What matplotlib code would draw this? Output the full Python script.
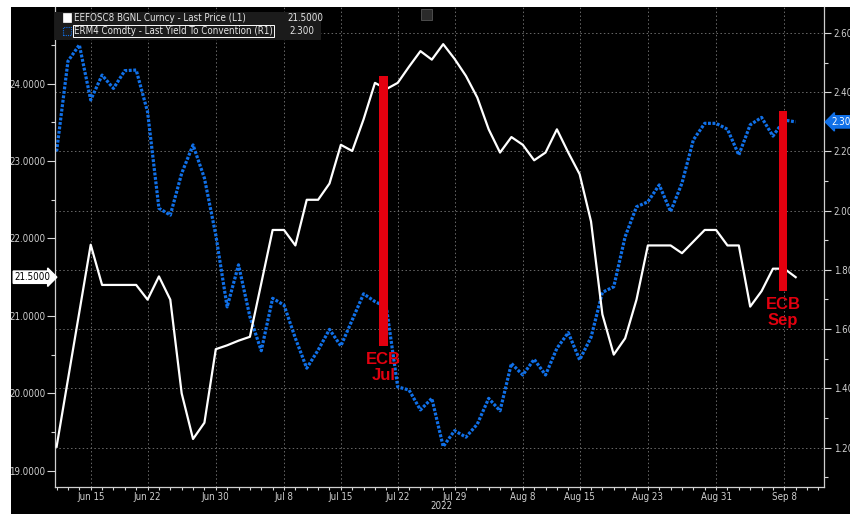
import pandas as pd
import matplotlib
matplotlib.use("Agg")
import matplotlib.pyplot as plt
from matplotlib import font_manager
from matplotlib.patches import Rectangle
from matplotlib.ticker import MultipleLocator, FormatStrFormatter, FixedLocator
import matplotlib.transforms as mtransforms

# business days shown on the chart
dates = pd.bdate_range("2022-06-10", "2022-09-09")

# EEFOSC8 BGNL Curncy - Last Price (left axis)
eur_ois = [19.31, 20.18, 21.05, 21.92, 21.40, 21.40, 21.40, 21.40, 21.21, 21.51,
           21.21, 20.00, 19.41, 19.62, 20.57, 20.62, 20.68, 20.73, 21.42, 22.11,
           22.11, 21.91, 22.50, 22.50, 22.71, 23.21, 23.13, 23.54, 24.01, 23.93,
           24.01, 24.22, 24.42, 24.31, 24.51, 24.32, 24.10, 23.82, 23.41, 23.11,
           23.31, 23.21, 23.01, 23.11, 23.41, 23.11, 22.83, 22.22, 21.02, 20.50,
           20.71, 21.21, 21.91, 21.91, 21.91, 21.81, 21.96, 22.11, 22.11, 21.91,
           21.91, 21.12, 21.32, 21.61, 21.61, 21.50]

# ERM4 Comdty - Last Yield To Convention (right axis)
erm4 = [2.200, 2.505, 2.560, 2.374, 2.458, 2.413, 2.473, 2.475, 2.334, 2.008,
        1.985, 2.126, 2.222, 2.110, 1.918, 1.675, 1.817, 1.642, 1.527, 1.704,
        1.681, 1.569, 1.468, 1.529, 1.599, 1.543, 1.631, 1.719, 1.693, 1.674,
        1.405, 1.394, 1.327, 1.366, 1.203, 1.257, 1.235, 1.279, 1.366, 1.324,
        1.484, 1.445, 1.498, 1.445, 1.535, 1.588, 1.496, 1.572, 1.724, 1.743,
        1.912, 2.013, 2.030, 2.087, 1.997, 2.093, 2.239, 2.295, 2.295, 2.275,
        2.188, 2.290, 2.315, 2.252, 2.306, 2.300]

tick_dates = ["2022-06-15", "2022-06-22", "2022-06-30", "2022-07-08", "2022-07-15",
              "2022-07-22", "2022-07-29", "2022-08-08", "2022-08-15", "2022-08-23",
              "2022-08-31", "2022-09-08"]

# ECB meetings: label, bar position (business days), bottom and top on left axis
ecb_labels = ["ECB\nJul", "ECB\nSep"]
ecb_pos = [28.75, 63.9]
ecb_low = [20.61, 21.32]
ecb_high = [24.10, 23.65]

# prefer a condensed face, like the terminal font
cond = [f for f in font_manager.fontManager.ttflist
        if f.name == "DejaVu Sans" and f.stretch == "condensed" and f.weight == 400
        and f.style == "normal"]
if cond:
    plt.rcParams["font.family"] = ["DejaVu Sans"]
    plt.rcParams["font.stretch"] = "condensed"
    fs = 7.0
else:
    plt.rcParams["font.family"] = ["Liberation Sans", "DejaVu Sans"]
    fs = 6.9

W, H = 850, 514
fig = plt.figure(figsize=(W / 100, H / 100), dpi=100, facecolor="white")

# black terminal background
fig.patches.append(Rectangle((11 / W, 0), 1, 1 - 7 / H, transform=fig.transFigure,
                             facecolor="black", edgecolor="none", zorder=-10))

rect = [55 / W, 1 - 487 / H, (824 - 55) / W, (487 - 7) / H]
ax2 = fig.add_axes(rect)
ax = fig.add_axes(rect, sharex=ax2)
ax.set_zorder(ax2.get_zorder() + 1)
ax.patch.set_visible(False)
ax2.set_facecolor("black")

x = list(range(len(dates)))
blue = "#1070e8"
ax2.plot(x, erm4, color=blue, lw=2.3, linestyle=(0, (0.9, 0.5)),
         dash_capstyle="butt")
ax.plot(x, eur_ois, color="white", lw=1.6)

for lab, pos, lo, hi in zip(ecb_labels, ecb_pos, ecb_low, ecb_high):
    ax.bar(pos, hi - lo, bottom=lo, width=0.72, color="#e3000f", zorder=5)
    ax.text(pos, lo - 0.07, lab, color="#e3000f", fontsize=12, fontweight="bold",
            family="Liberation Sans", fontstretch="normal", ha="center", va="top",
            linespacing=1.15, zorder=6)

# axes ranges
ax.set_xlim(-0.14, 67.49)
ax.set_ylim(18.79, 24.99)
ax2.set_ylim(1.0666, 2.688)

# y axes: left is price, right is yield
ax.yaxis.tick_left()
ax.yaxis.set_major_locator(MultipleLocator(1))
ax.yaxis.set_minor_locator(MultipleLocator(0.5))
ax.yaxis.set_major_formatter(FormatStrFormatter("%.4f"))
ax2.yaxis.tick_right()
ax2.yaxis.set_major_locator(MultipleLocator(0.2))
ax2.yaxis.set_minor_locator(MultipleLocator(0.1))
ax2.yaxis.set_major_formatter(FormatStrFormatter("%.2f"))

pos_idx = [list(dates).index(pd.Timestamp(d)) for d in tick_dates]
ax2.xaxis.set_major_locator(FixedLocator(pos_idx))
ax2.xaxis.set_minor_locator(FixedLocator(x + [66, 67]))
ax2.set_xticklabels([pd.Timestamp(d).strftime("%b ") + str(pd.Timestamp(d).day)
                     for d in tick_dates])
ax.tick_params(axis="x", which="both", bottom=False, labelbottom=False)

lab_col = "#cfcfcf"
for a in (ax, ax2):
    for s in a.spines.values():
        s.set_visible(False)
    a.tick_params(which="both", colors="#d8d8d8", labelcolor=lab_col,
                  labelsize=fs, width=0.8)
ax.tick_params(axis="y", which="major", length=6, pad=1)
ax.tick_params(axis="y", which="minor", length=3)
ax2.tick_params(axis="y", which="major", length=5, pad=2)
ax2.tick_params(axis="y", which="minor", length=3)
ax2.tick_params(axis="x", which="both", length=2.5, pad=1)
for s in ("left", "right", "bottom"):
    ax2.spines[s].set_visible(True)
    ax2.spines[s].set_color("#cfcfcf")
    ax2.spines[s].set_linewidth(0.9)

ax2.grid(True, which="major", color="#6a6a6a", linestyle=(0, (1.5, 2.5)), lw=0.7)

# last value tags
tl = mtransforms.blended_transform_factory(ax.transAxes, ax.transData)
ax.text(-0.006, eur_ois[-1], "%.4f" % eur_ois[-1], transform=tl, ha="right",
        va="center", fontsize=fs, color="black", zorder=10, clip_on=False,
        bbox=dict(boxstyle="rarrow,pad=0.12", fc="white", ec="white"))
tr = mtransforms.blended_transform_factory(ax2.transAxes, ax2.transData)
ax2.text(1.010, erm4[-1], "%.2f" % erm4[-1], transform=tr, ha="left",
         va="center", fontsize=fs, color="white", zorder=10, clip_on=False,
         bbox=dict(boxstyle="larrow,pad=0.12", fc=blue, ec=blue))

fig.text(430 / W, 1 - 506 / H, "2022", color=lab_col, fontsize=fs,
         ha="left", va="center")

# legend box
fig.patches.append(Rectangle((55 / W, 1 - 40 / H), 266 / W, 28 / H,
                             transform=fig.transFigure, facecolor="#1b1b1b",
                             edgecolor="none", zorder=20))
fig.patches.append(Rectangle((62.5 / W, 1 - 21.5 / H), 8 / W, 8 / H,
                             transform=fig.transFigure, facecolor="white",
                             edgecolor="white", lw=0.5, zorder=21))
fig.patches.append(Rectangle((62.5 / W, 1 - 35 / H), 8 / W, 8 / H,
                             transform=fig.transFigure, facecolor="none",
                             edgecolor=blue, lw=0.8, linestyle=(0, (1, 1)),
                             zorder=21))
fig.text(74 / W, 1 - 18 / H, "EEFOSC8 BGNL Curncy - Last Price (L1)",
         color="#e6e6e6", fontsize=fs, va="center", zorder=22)
fig.text(287 / W, 1 - 18 / H, "%.4f" % eur_ois[-1], color="#e6e6e6",
         fontsize=fs, va="center", zorder=22)
fig.text(74 / W, 1 - 31 / H, "ERM4 Comdty - Last Yield To Convention (R1)",
         color="#e6e6e6", fontsize=fs, va="center", zorder=22,
         bbox=dict(boxstyle="square,pad=0.08", fc="none", ec="white", lw=0.7))
fig.text(289 / W, 1 - 31 / H, "%.3f" % erm4[-1], color="#e6e6e6",
         fontsize=fs, va="center", zorder=22)

# chart-type widget
fig.patches.append(Rectangle((421 / W, 1 - 20 / H), 11 / W, 11 / H,
                             transform=fig.transFigure, facecolor="#2a2a2a",
                             edgecolor="#555555", lw=0.6, zorder=20))

fig.savefig("out.png", dpi=100, facecolor="white")
